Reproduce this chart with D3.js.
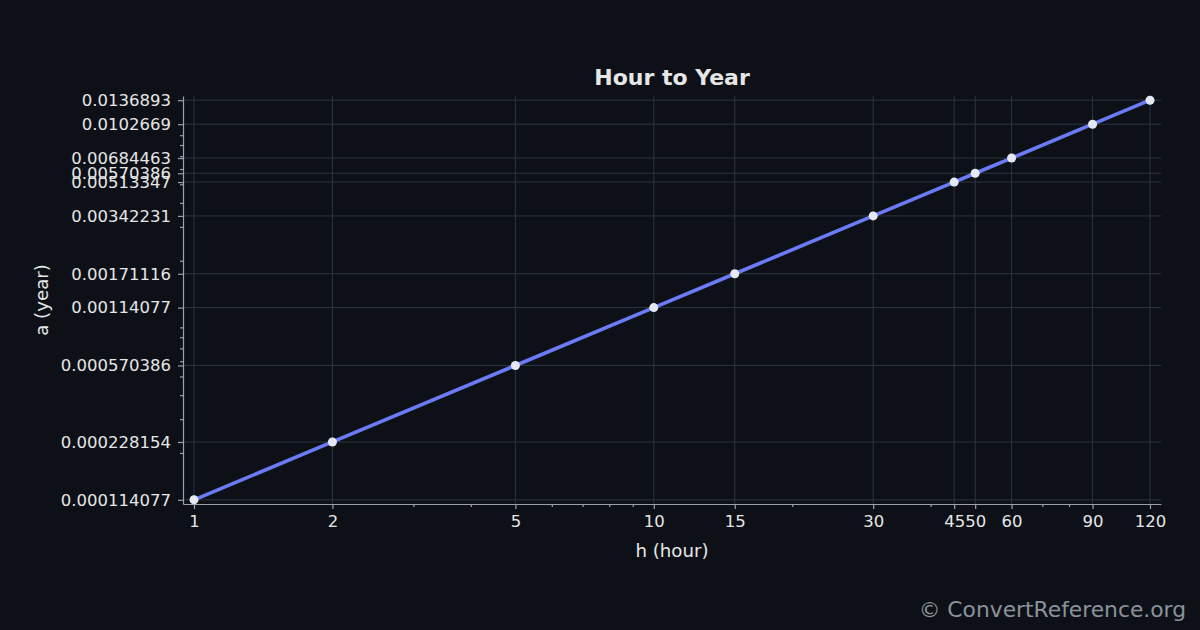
<!DOCTYPE html>
<html>
<head>
<meta charset="utf-8">
<script src="https://cdn.jsdelivr.net/npm/d3@7"></script>
<style>
  html, body { margin: 0; padding: 0; background: #0d1117; }
  svg { display: block; font-family: "DejaVu Sans", sans-serif; }
</style>
</head>
<body>
<script>
// data
const hours = [1, 2, 5, 10, 15, 30, 45, 50, 60, 90, 120];
const years = [0.000114077, 0.000228154, 0.000570386, 0.00114077, 0.00171116,
               0.00342231, 0.00513347, 0.00570386, 0.00684463, 0.0102669, 0.0136893];
const xTickLabels = ["1", "2", "5", "10", "15", "30", "45", "50", "60", "90", "120"];
const yTickLabels = ["0.000114077", "0.000228154", "0.000570386", "0.00114077", "0.00171116",
                     "0.00342231", "0.00513347", "0.00570386", "0.00684463", "0.0102669", "0.0136893"];

window.onload = initPage;

function initPage() {
    const svgInfo = {
        SVG_WIDTH: 1200,
        SVG_HEIGHT: 630,
        LEFT: 183,
        RIGHT: 1161,
        TOP: 96,
        BOTTOM: 504,
    };
    const svg = d3.select("body")
        .append("svg")
        .attr("width", svgInfo.SVG_WIDTH)
        .attr("height", svgInfo.SVG_HEIGHT);
    svg.append("rect")
        .attr("width", svgInfo.SVG_WIDTH)
        .attr("height", svgInfo.SVG_HEIGHT)
        .attr("fill", "#0d1117");
    drawChart(svg, svgInfo);
}

function logPadDomain(values, frac) {
    const lo = Math.log10(d3.min(values));
    const hi = Math.log10(d3.max(values));
    const pad = (hi - lo) * frac;
    return [Math.pow(10, lo - pad), Math.pow(10, hi + pad)];
}

function minorTicks(domain, majors) {
    // 2..9 x 10^n inside the domain, skipping ones that sit on a major tick
    const out = [];
    for (let n = Math.floor(Math.log10(domain[0])); n <= Math.ceil(Math.log10(domain[1])); n++) {
        for (let k = 2; k <= 9; k++) {
            const v = k * Math.pow(10, n);
            if (v < domain[0] || v > domain[1]) continue;
            if (majors.some((m) => Math.abs(m - v) / v < 1e-3)) continue;
            out.push(v);
        }
    }
    return out;
}

function drawChart(svg, svgInfo) {
    const textColor = "#e6e6e6";
    const spineColor = "#9ba1a8";
    const gridColor = "#2c3541";

    const xScale = d3.scaleLog()
        .domain(logPadDomain(hours, 0.0115))
        .range([svgInfo.LEFT, svgInfo.RIGHT]);
    const yScale = d3.scaleLog()
        .domain(logPadDomain(years, 0.0105))
        .range([svgInfo.BOTTOM, svgInfo.TOP]);

    // grid
    svg.append("g")
        .selectAll("line")
        .data(hours)
        .join("line")
        .attr("x1", (d) => xScale(d))
        .attr("x2", (d) => xScale(d))
        .attr("y1", svgInfo.TOP)
        .attr("y2", svgInfo.BOTTOM)
        .attr("stroke", gridColor)
        .attr("stroke-width", 1);
    svg.append("g")
        .selectAll("line")
        .data(years)
        .join("line")
        .attr("x1", svgInfo.LEFT)
        .attr("x2", svgInfo.RIGHT)
        .attr("y1", (d) => yScale(d))
        .attr("y2", (d) => yScale(d))
        .attr("stroke", gridColor)
        .attr("stroke-width", 1);

    // x axis
    svg.append("g")
        .attr("transform", `translate(0,${svgInfo.BOTTOM})`)
        .call(d3.axisBottom(xScale)
            .tickValues(hours)
            .tickFormat((d, i) => xTickLabels[i])
            .tickSize(5)
            .tickPadding(6)
            .tickSizeOuter(0));
    svg.append("g")
        .attr("transform", `translate(0,${svgInfo.BOTTOM})`)
        .call(d3.axisBottom(xScale)
            .tickValues(minorTicks(xScale.domain(), hours))
            .tickFormat("")
            .tickSize(3)
            .tickSizeOuter(0))
        .call((g) => g.select(".domain").remove());

    // y axis
    svg.append("g")
        .attr("transform", `translate(${svgInfo.LEFT},0)`)
        .call(d3.axisLeft(yScale)
            .tickValues(years)
            .tickFormat((d, i) => yTickLabels[i])
            .tickSize(5)
            .tickPadding(7)
            .tickSizeOuter(0));
    svg.append("g")
        .attr("transform", `translate(${svgInfo.LEFT},0)`)
        .call(d3.axisLeft(yScale)
            .tickValues(minorTicks(yScale.domain(), years))
            .tickFormat("")
            .tickSize(3)
            .tickSizeOuter(0))
        .call((g) => g.select(".domain").remove());

    svg.selectAll(".domain, .tick line")
        .attr("stroke", spineColor)
        .attr("stroke-width", 1.2);
    svg.selectAll(".tick text")
        .attr("fill", textColor)
        .attr("font-size", 16.5)
        .attr("font-family", "DejaVu Sans");

    // line + markers
    const points = hours.map((h, i) => [h, years[i]]);
    svg.append("path")
        .datum(points)
        .attr("fill", "none")
        .attr("stroke", "#6b7af5")
        .attr("stroke-width", 3.6)
        .attr("stroke-linecap", "round")
        .attr("d", d3.line().x((d) => xScale(d[0])).y((d) => yScale(d[1])));
    svg.append("g")
        .selectAll("circle")
        .data(points)
        .join("circle")
        .attr("cx", (d) => xScale(d[0]))
        .attr("cy", (d) => yScale(d[1]))
        .attr("r", 4.5)
        .attr("fill", "#e4e8f2");

    // texts
    const midX = (svgInfo.LEFT + svgInfo.RIGHT) / 2;
    svg.append("text")
        .attr("x", midX)
        .attr("y", 85)
        .attr("text-anchor", "middle")
        .attr("fill", textColor)
        .attr("font-size", 22)
        .attr("font-weight", "bold")
        .text("Hour to Year");
    svg.append("text")
        .attr("x", midX)
        .attr("y", 557)
        .attr("text-anchor", "middle")
        .attr("fill", textColor)
        .attr("font-size", 18.2)
        .text("h (hour)");
    svg.append("text")
        .attr("transform", `translate(48,${(svgInfo.TOP + svgInfo.BOTTOM) / 2}) rotate(-90)`)
        .attr("text-anchor", "middle")
        .attr("fill", textColor)
        .attr("font-size", 18.2)
        .text("a (year)");
    svg.append("text")
        .attr("x", 1186)
        .attr("y", 617)
        .attr("text-anchor", "end")
        .attr("fill", "#8b929b")
        .attr("font-size", 21.8)
        .text("© ConvertReference.org");
}
</script>
</body>
</html>
